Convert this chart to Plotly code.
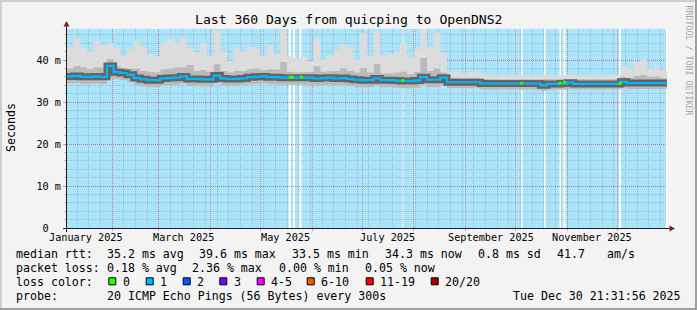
import plotly.graph_objects as go
import pandas as pd

# ---------------- data ----------------
START = "2025-01-04 21:31:56"
END = "2025-12-30 21:31:56"
BIN_DAYS = 4  # each value below covers 4 days

median_ms = [36.1, 36.2, 36.0, 36.0, 36.1, 36.0, 38.6, 37.1, 36.9, 36.5,
             35.7, 35.4, 35.2, 35.2, 35.6, 35.7, 35.8, 36.1, 35.5, 35.5,
             35.4, 35.4, 36.3, 35.6, 35.5, 35.5, 35.6, 35.9, 36.0, 36.1,
             35.9, 35.9, 35.8, 35.8, 35.8, 35.8, 35.8, 35.6, 35.7, 35.8,
             35.6, 35.7, 35.5, 35.3, 35.2, 35.2, 35.6, 35.2, 35.2, 35.1,
             35.0, 35.0, 35.1, 35.9, 35.3, 35.3, 35.8, 34.7, 34.7, 34.7,
             34.7, 34.7, 34.4, 34.4, 34.4, 34.4, 34.4, 34.4, 34.4, 34.4,
             34.4, 34.0, 34.3, 34.3, 34.4, 34.6, 34.3, 34.3, 34.3, 34.3,
             34.3, 34.3, 34.3, 34.8, 34.5, 34.5, 34.5, 34.5, 34.5, 34.5]

min_ms = [34.4, 34.5, 34.3, 34.3, 34.4, 34.3, 35.6, 35.4, 35.2, 34.8,
          34.0, 33.7, 33.5, 33.5, 33.9, 34.0, 34.1, 34.4, 33.8, 33.8,
          33.7, 33.7, 34.5, 33.9, 33.8, 33.8, 33.9, 34.2, 34.3, 34.4,
          34.2, 34.2, 34.1, 34.1, 34.1, 34.1, 34.1, 33.9, 34.0, 34.1,
          33.9, 34.0, 33.8, 33.6, 33.5, 33.5, 33.9, 33.5, 33.5, 33.4,
          33.3, 33.3, 33.4, 34.1, 33.6, 33.6, 34.1, 33.3, 33.3, 33.3,
          33.3, 33.3, 33.0, 33.0, 33.0, 33.0, 33.0, 33.0, 33.0, 33.0,
          33.0, 32.6, 32.9, 33.0, 33.0, 33.1, 33.0, 33.0, 33.0, 33.0,
          33.0, 33.0, 33.0, 33.3, 33.1, 33.1, 33.1, 33.1, 33.1, 33.1]

mid_ms = [38.0, 38.6, 38.3, 37.8, 38.3, 38.1, 40.2, 38.6, 38.1, 37.9,
          37.9, 37.4, 37.2, 37.0, 37.8, 38.0, 38.2, 38.3, 38.8, 37.4,
          37.6, 37.2, 39.0, 37.4, 37.0, 37.4, 37.4, 37.8, 38.0, 37.6,
          37.8, 37.7, 39.5, 37.2, 37.0, 37.1, 37.2, 38.5, 37.2, 37.3,
          37.4, 38.0, 37.4, 37.0, 38.1, 37.0, 39.0, 36.8, 36.8, 37.0,
          37.2, 36.6, 37.2, 40.5, 37.4, 38.0, 37.0, 35.7, 35.8, 35.7,
          35.7, 35.8, 35.5, 35.4, 35.4, 35.4, 35.4, 35.4, 35.4, 35.4,
          35.4, 35.4, 35.4, 35.4, 35.4, 35.5, 35.4, 35.4, 35.4, 35.4,
          35.4, 35.4, 35.4, 36.0, 35.8, 36.2, 36.5, 36.0, 36.1, 35.7]

max_ms = [43.0, 45.3, 43.0, 42.0, 44.5, 43.5, 44.0, 43.0, 41.0, 42.5,
          44.5, 43.2, 41.5, 40.8, 44.0, 45.0, 44.2, 45.4, 42.8, 41.8,
          44.0, 41.0, 47.2, 42.0, 39.8, 43.0, 42.0, 43.2, 42.6, 41.0,
          43.5, 41.5, 47.3, 41.0, 40.5, 40.8, 39.8, 45.2, 40.0, 41.0,
          42.4, 43.8, 43.0, 40.0, 46.3, 41.0, 46.8, 41.0, 41.5, 42.0,
          44.0, 40.5, 42.5, 47.4, 43.0, 46.4, 41.6, 37.0, 37.2, 36.8,
          37.0, 37.3, 36.8, 36.4, 36.3, 36.4, 36.2, 36.3, 36.4, 36.2,
          36.3, 36.5, 36.3, 36.2, 36.4, 36.5, 36.3, 36.2, 36.3, 36.2,
          36.3, 36.4, 36.4, 38.5, 38.0, 39.5, 40.0, 38.0, 38.5, 37.5]

# samples where the median had 0 loss (green), day offset from START
zero_loss_day = [133.8, 135.3, 140.7, 201.6, 272.8, 295.8, 298.5, 331.8]
zero_loss_ms = [35.9, 35.9, 35.9, 35.1, 34.45, 34.45, 34.7, 34.45]

# periods without data (day offset from START, length in days)
gap_start_day = [133.0, 135.6, 139.4, 201.4, 272.4, 286.2, 295.5, 297.9, 331.2, 359.4]
gap_len_day = [1.4, 1.2, 1.3, 0.7, 0.9, 0.9, 0.9, 1.2, 1.2, 0.6]

y_tickvals = [0, 10, 20, 30, 40]
y_ticktext = ["0\u00a0\u00a0", "10 m", "20 m", "30 m", "40 m"]
x_labels = ["January 2025", "March 2025", "May 2025", "July 2025",
            "September 2025", "November 2025"]
x_label_dates = ["2025-01-16", "2025-03-16", "2025-05-16", "2025-07-16",
                 "2025-09-16", "2025-11-16"]

loss_labels = ["0", "1", "2", "3", "4-5", "6-10", "11-19", "20/20"]
loss_colors = ["#26ff00", "#00b8ff", "#0059ff", "#7e00ff", "#ff00ff",
               "#ff5500", "#ff0000", "#a10000"]

TITLE = "Last 360 Days from quicping to OpenDNS2"
legend_rows = [
    [("median rtt:", 16), ("35.2 ms avg", 107), ("39.6 ms max", 199.5),
     ("33.5 ms min", 292), ("34.3 ms now", 385), ("0.8 ms sd", 478),
     ("41.7", 557), ("am/s", 607)],
    [("packet loss:", 16), ("0.18 % avg", 107), ("2.36 % max", 192.5),
     ("0.00 % min", 279), ("0.05 % now", 365)],
    [("loss color:", 16)],
    [("probe:", 16), ("20 ICMP Echo Pings (56 Bytes) every 300s", 107)],
]
legend_row_y = [253.5, 267.8, 281.8, 296.3]
DATE_TEXT = "Tue Dec 30 21:31:56 2025"
loss_box_x = [108.3, 145.7, 182.7, 219.3, 256.7, 306.7, 365.7, 430.7]

# ---------------- style ----------------
MONO = "DejaVu Sans Mono"
BLUE = "#aae4fb"
MGRID = "rgba(222,79,79,0.55)"
GRID = "rgba(143,143,143,0.45)"
L, R, T, B = 67, 30, 29, 82
W, H = 697, 310
PW, PH = W - L - R, H - T - B


def px_x(px):
    return (px - L) / PW


def px_y(py):
    return (T + PH - py) / PH


start = pd.Timestamp(START)
edges = pd.date_range(START, periods=len(median_ms) + 1, freq=f"{BIN_DAYS}D")


def stepped(vals):
    return list(vals) + [vals[-1]]


fig = go.Figure()
xs = list(edges)

# lightest smoke: min .. max
fig.add_trace(go.Scatter(x=xs, y=stepped(min_ms), mode="lines", line=dict(width=0, shape="hv"),
                         hoverinfo="skip"))
fig.add_trace(go.Scatter(x=xs, y=stepped(max_ms), mode="lines", line=dict(width=0, shape="hv"),
                         fill="tonexty", fillcolor="#dcdcdc", hoverinfo="skip"))
# medium smoke: min .. mid
fig.add_trace(go.Scatter(x=xs, y=stepped(min_ms), mode="lines", line=dict(width=0, shape="hv"),
                         hoverinfo="skip"))
fig.add_trace(go.Scatter(x=xs, y=stepped(mid_ms), mode="lines", line=dict(width=0, shape="hv"),
                         fill="tonexty", fillcolor="#bababa", hoverinfo="skip"))
# dark core around median
fig.add_trace(go.Scatter(x=xs, y=stepped(median_ms), mode="lines",
                         line=dict(width=7, shape="hv", color="#646464"), hoverinfo="skip"))
# median (loss colour 1)
fig.add_trace(go.Scatter(x=xs, y=stepped(median_ms), mode="lines",
                         line=dict(width=2.2, shape="hv", color=loss_colors[1]), hoverinfo="skip"))
# zero-loss samples
fig.add_trace(go.Scatter(x=[start + pd.Timedelta(days=d) for d in zero_loss_day], y=zero_loss_ms,
                         mode="markers", marker=dict(symbol="square", size=3, color=loss_colors[0],
                                                     line=dict(width=0)), hoverinfo="skip"))

shapes = []
for d, n in zip(gap_start_day, gap_len_day):
    shapes.append(dict(type="rect", xref="x", yref="paper",
                       x0=start + pd.Timedelta(days=d), x1=start + pd.Timedelta(days=d + n),
                       y0=0, y1=1, fillcolor="white", line=dict(width=0), layer="below"))

# frame shading
shapes += [
    dict(type="rect", xref="paper", yref="paper", x0=px_x(0), x1=px_x(W), y0=px_y(0), y1=px_y(2),
         fillcolor="#cfcfcf", line=dict(width=0), layer="above"),
    dict(type="rect", xref="paper", yref="paper", x0=px_x(0), x1=px_x(2), y0=px_y(0), y1=px_y(H),
         fillcolor="#cfcfcf", line=dict(width=0), layer="above"),
    dict(type="rect", xref="paper", yref="paper", x0=px_x(0), x1=px_x(W), y0=px_y(H - 2), y1=px_y(H),
         fillcolor="#9e9e9e", line=dict(width=0), layer="above"),
    dict(type="rect", xref="paper", yref="paper", x0=px_x(W - 2), x1=px_x(W), y0=px_y(0), y1=px_y(H),
         fillcolor="#9e9e9e", line=dict(width=0), layer="above"),
]

# axes with arrows
AX = "#1f1f1f"
ARROW = "#801f1f"
shapes += [
    dict(type="line", xref="paper", yref="paper", x0=px_x(66.5), x1=px_x(66.5),
         y0=px_y(232), y1=px_y(26), line=dict(color=AX, width=1), layer="above"),
    dict(type="line", xref="paper", yref="paper", x0=px_x(63), x1=px_x(670),
         y0=px_y(228.5), y1=px_y(228.5), line=dict(color=AX, width=1), layer="above"),
    dict(type="path", xref="paper", yref="paper",
         path=f"M {px_x(66.5)},{px_y(21)} L {px_x(69.5)},{px_y(26.5)} L {px_x(63.5)},{px_y(26.5)} Z",
         fillcolor=ARROW, line=dict(width=0), layer="above"),
    dict(type="path", xref="paper", yref="paper",
         path=f"M {px_x(675)},{px_y(228.5)} L {px_x(669.5)},{px_y(225.5)} L {px_x(669.5)},{px_y(231.5)} Z",
         fillcolor=ARROW, line=dict(width=0), layer="above"),
]

# loss colour boxes
for bx, c in zip(loss_box_x, loss_colors):
    shapes.append(dict(type="rect", xref="paper", yref="paper", x0=px_x(bx + 0.5), x1=px_x(bx + 7.5),
                       y0=px_y(277.8), y1=px_y(284.8), fillcolor=c,
                       line=dict(color="black", width=1), layer="above"))

annotations = []


def text(s, px, py, size=11.6, anchor="left", color="black", angle=0, yanchor="middle"):
    annotations.append(dict(text=s, xref="paper", yref="paper", x=px_x(px), y=px_y(py),
                            xanchor=anchor, yanchor=yanchor, showarrow=False, textangle=angle,
                            borderpad=0, borderwidth=0,
                            font=dict(family=MONO, size=size, color=color)))


text(TITLE, 348, 19, size=13.1, anchor="center")
text("Seconds", 11, 128, anchor="center", angle=-90)
text("RRDTOOL / TOBI OETIKER", 688.5, 60, size=8.3, anchor="center", color="#a6a6a6", angle=90)

for lab, d in zip(x_labels, x_label_dates):
    annotations.append(dict(text=lab, xref="x", yref="paper", x=d, y=px_y(237.3),
                            xanchor="center", yanchor="middle", showarrow=False, borderpad=0,
                            font=dict(family=MONO, size=10.2, color="black")))

for row, py in zip(legend_rows, legend_row_y):
    for s, px in row:
        text(s, px - 0.5, py)
for bx, lab in zip(loss_box_x, loss_labels):
    text(lab, bx + 14.5, legend_row_y[2])
text(DATE_TEXT, 680.5, legend_row_y[3], anchor="right")

month_starts = list(pd.date_range("2025-02-01", "2025-12-01", freq="MS"))
weeks = list(pd.date_range("2025-01-11", "2025-12-30", freq="7D"))

fig.update_layout(
    width=W, height=H, margin=dict(l=L, r=R, t=T, b=B, pad=0),
    paper_bgcolor="#f3f3f3", plot_bgcolor=BLUE, showlegend=False,
    shapes=shapes, annotations=annotations,
    xaxis=dict(type="date", range=[START, END], tickmode="array", tickvals=month_starts,
               showticklabels=False, showgrid=True, gridcolor=MGRID, gridwidth=1,
               griddash="1px,1px", ticks="outside", ticklen=2, tickcolor=MGRID,
               minor=dict(tickmode="array", tickvals=weeks, showgrid=True, gridcolor=GRID,
                          griddash="1px,1px", gridwidth=1, ticks=""),
               showline=False, zeroline=False, fixedrange=True),
    yaxis=dict(range=[0, (PH) / 4.2], tickmode="array", tickvals=y_tickvals, ticktext=y_ticktext,
               showgrid=True, gridcolor=MGRID, gridwidth=1, griddash="1px,1px",
               ticks="outside", ticklen=3, tickcolor=MGRID,
               minor=dict(dtick=2, showgrid=True, gridcolor=GRID, griddash="1px,1px",
                          gridwidth=1, ticks="outside", ticklen=2, tickcolor=GRID),
               tickfont=dict(family=MONO, size=10.2, color="black"),
               showline=False, zeroline=False, fixedrange=True),
)

fig.write_html("out.html")
